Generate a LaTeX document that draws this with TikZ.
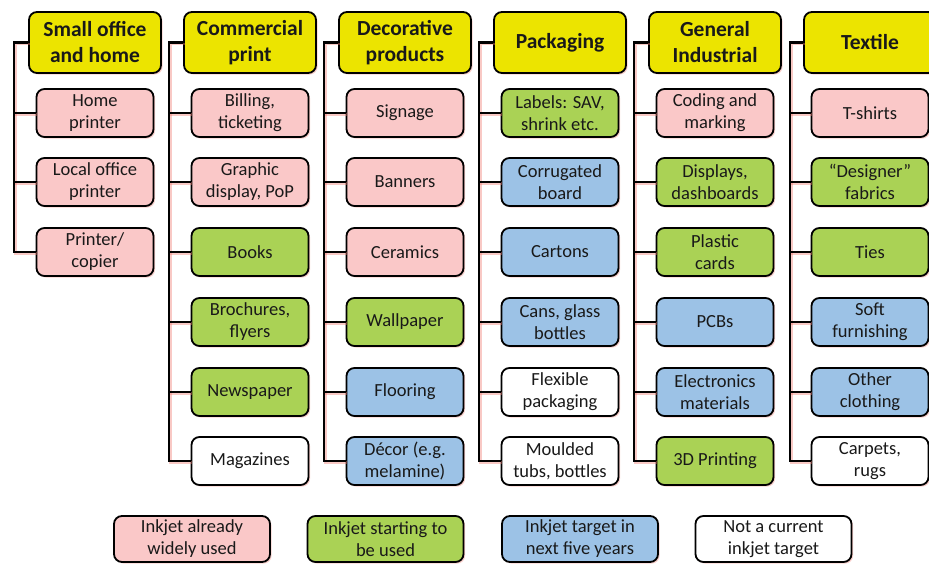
\documentclass[tikz,border=0pt]{standalone}
\usepackage{fontspec}
\setmainfont{Carlito}
\usetikzlibrary{shadows}

\definecolor{hdrfill}{RGB}{236,228,0}
\definecolor{usedfill}{RGB}{250,200,200}
\definecolor{startfill}{RGB}{170,210,85}
\definecolor{targetfill}{RGB}{156,194,230}
\definecolor{glow}{RGB}{240,120,110}
\definecolor{ink}{RGB}{25,25,25}

\tikzset{
  box/.style={draw=black, line width=1.8pt, rounded corners=8pt, align=center,
    inner sep=0pt, text=ink,
    drop shadow={shadow xshift=1.6pt, shadow yshift=-1.6pt, fill=glow, opacity=0.35}},
  header/.style={box, fill=hdrfill, minimum width=132pt, minimum height=61pt,
    font=\fontsize{21.5}{26}\selectfont\bfseries},
  item/.style={box, minimum width=117pt, minimum height=48pt,
    font=\fontsize{18.5}{22}\selectfont},
  key/.style={box, minimum width=156pt, minimum height=46pt,
    font=\fontsize{18.5}{22}\selectfont},
  used/.style={fill=usedfill},
  starting/.style={fill=startfill},
  target/.style={fill=targetfill},
  notyet/.style={fill=white},
  conn/.style={draw=black, line width=2.2pt,
    preaction={draw=glow, draw opacity=0.4, line width=2.2pt,
      transform canvas={shift={(1.4pt,-1.4pt)}}}}
}

\begin{document}
\begin{tikzpicture}[x=1pt,y=-1pt]
\useasboundingbox[fill=white] (0,0) rectangle (929,563);

% column headers
\node[header] (h1) at (95,42.5)  {Small office\\and home};
\node[header] (h2) at (250,42.5) {Commercial\\print};
\node[header] (h3) at (405,42.5) {Decorative\\products};
\node[header] (h4) at (560,42.5) {Packaging};
\node[header] (h5) at (715,42.5) {General\\Industrial};
\node[header] (h6) at (870,42.5) {Textile};

% small office and home
\node[item,used] (a1) at (95,113) {Home\\printer};
\node[item,used] (a2) at (95,182) {Local office\\printer};
\node[item,used] (a3) at (95,252) {Printer/\\copier};

% commercial print
\node[item,used]     (b1) at (250,113) {Billing,\\ticketing};
\node[item,used]     (b2) at (250,182) {Graphic\\display, PoP};
\node[item,starting] (b3) at (250,252) {Books};
\node[item,starting] (b4) at (250,322) {Brochures,\\flyers};
\node[item,starting] (b5) at (250,392) {Newspaper};
\node[item,notyet]   (b6) at (250,461) {Magazines};

% decorative products
\node[item,used]     (c1) at (405,113) {Signage};
\node[item,used]     (c2) at (405,182) {Banners};
\node[item,used]     (c3) at (405,252) {Ceramics};
\node[item,starting] (c4) at (405,322) {Wallpaper};
\node[item,target]   (c5) at (405,392) {Flooring};
\node[item,target]   (c6) at (405,461) {Décor (e.g.\\melamine)};

% packaging
\node[item,starting] (d1) at (560,113) {Labels: SAV,\\shrink etc.};
\node[item,target]   (d2) at (560,182) {Corrugated\\board};
\node[item,target]   (d3) at (560,252) {Cartons};
\node[item,target]   (d4) at (560,322) {Cans, glass\\bottles};
\node[item,notyet]   (d5) at (560,392) {Flexible\\packaging};
\node[item,notyet]   (d6) at (560,461) {Moulded\\tubs, bottles};

% general industrial
\node[item,used]     (e1) at (715,113) {Coding and\\marking};
\node[item,starting] (e2) at (715,182) {Displays,\\dashboards};
\node[item,starting] (e3) at (715,252) {Plastic\\cards};
\node[item,target]   (e4) at (715,322) {PCBs};
\node[item,target]   (e5) at (715,392) {Electronics\\materials};
\node[item,starting] (e6) at (715,461) {3D Printing};

% textile
\node[item,used]     (f1) at (870,113) {T-shirts};
\node[item,starting] (f2) at (870,182) {“Designer”\\fabrics};
\node[item,starting] (f3) at (870,252) {Ties};
\node[item,target]   (f4) at (870,322) {Soft\\furnishing};
\node[item,target]   (f5) at (870,392) {Other\\clothing};
\node[item,notyet]   (f6) at (870,461) {Carpets,\\rugs};

% spines: each header feeds a vertical bus on its left
\coordinate (v1) at (14,42.5);
\coordinate (v2) at (169,42.5);
\coordinate (v3) at (324,42.5);
\coordinate (v4) at (479,42.5);
\coordinate (v5) at (634,42.5);
\coordinate (v6) at (790,42.5);

\path[conn] (h1.west) -- (v1) |- (a3.west);
\foreach \n in {a1,a2} \path[conn] (v1 |- \n.west) -- (\n.west);

\path[conn] (h2.west) -- (v2) |- (b6.west);
\foreach \n in {b1,b2,b3,b4,b5} \path[conn] (v2 |- \n.west) -- (\n.west);

\path[conn] (h3.west) -- (v3) |- (c6.west);
\foreach \n in {c1,c2,c3,c4,c5} \path[conn] (v3 |- \n.west) -- (\n.west);

\path[conn] (h4.west) -- (v4) |- (d6.west);
\foreach \n in {d1,d2,d3,d4,d5} \path[conn] (v4 |- \n.west) -- (\n.west);

\path[conn] (h5.west) -- (v5) |- (e6.west);
\foreach \n in {e1,e2,e3,e4,e5} \path[conn] (v5 |- \n.west) -- (\n.west);

\path[conn] (h6.west) -- (v6) |- (f6.west);
\foreach \n in {f1,f2,f3,f4,f5} \path[conn] (v6 |- \n.west) -- (\n.west);

% legend
\node[key,used]     (k1) at (192,539)   {Inkjet already\\widely used};
\node[key,starting] (k2) at (385.5,539) {Inkjet starting to\\be used};
\node[key,target]   (k3) at (580,539)   {Inkjet target in\\next five years};
\node[key,notyet]   (k4) at (773.5,539) {Not a current\\inkjet target};
\end{tikzpicture}
\end{document}
